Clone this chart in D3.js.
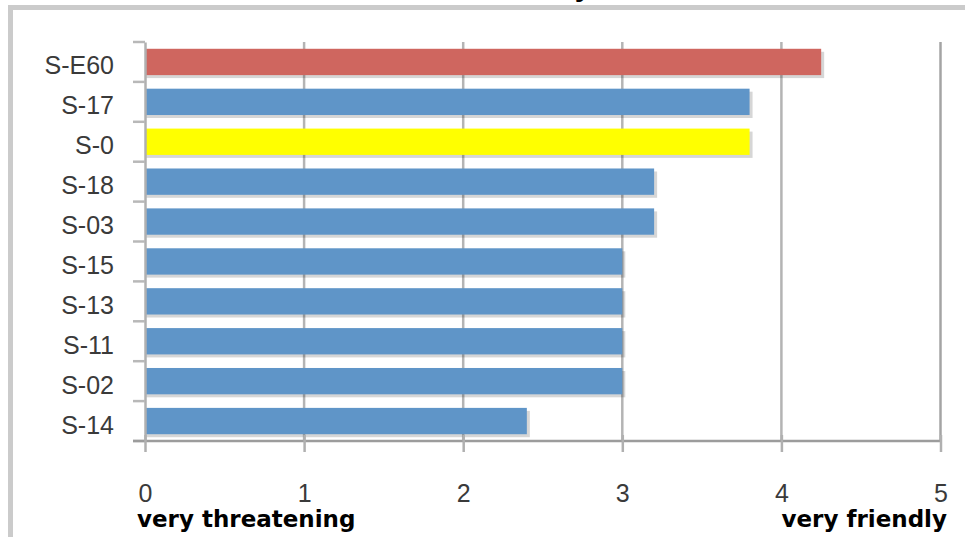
<!DOCTYPE html>
<html>
<head>
<meta charset="utf-8">
<script src="https://cdn.jsdelivr.net/npm/d3@7"></script>
<style>
  html, body { margin: 0; padding: 0; background: #fff; }
  svg { display: block; }
</style>
</head>
<body>
<svg id="chart" width="965" height="537"></svg>
<script>
// Rating per scenario, top to bottom
const categories = ["S-E60", "S-17", "S-0", "S-18", "S-03", "S-15", "S-13", "S-11", "S-02", "S-14"];
const values = [4.25, 3.8, 3.8, 3.2, 3.2, 3.0, 3.0, 3.0, 3.0, 2.4];
const barColors = ["#cf665f", "#5f95c8", "#ffff00", "#5f95c8", "#5f95c8", "#5f95c8", "#5f95c8", "#5f95c8", "#5f95c8", "#5f95c8"];
const xTicks = [0, 1, 2, 3, 4, 5];
const scaleEnds = ["very threatening", "very friendly"];
const titleText = "y";

const svg = d3.select("#chart");
const W = 965, H = 537;
const plotLeft = 145, plotRight = 940.5, plotTop = 42, plotBottom = 441;
const labelFont = "Liberation Sans, Arial, sans-serif";

// Outer chart frame
svg.append("rect")
  .attr("x", 10.5).attr("y", 7.5)
  .attr("width", W + 20).attr("height", H + 20)
  .attr("fill", "none").attr("stroke", "#cbcbcb").attr("stroke-width", 5);

// Title (clipped by the top of the view)
svg.append("text")
  .attr("x", 583).attr("y", -4)
  .attr("text-anchor", "middle")
  .attr("font-family", labelFont)
  .attr("font-weight", "bold").attr("font-size", 30)
  .attr("fill", "#000")
  .text(titleText);

const x = d3.scaleLinear().domain([0, 5]).range([plotLeft, plotRight]);
const y = d3.scaleBand().domain(categories).range([plotTop, plotBottom]).paddingInner(0.34).paddingOuter(0.17);

// Vertical gridlines
svg.append("g").selectAll("line")
  .data(xTicks.slice(1))
  .join("line")
  .attr("x1", d => x(d)).attr("x2", d => x(d))
  .attr("y1", plotTop).attr("y2", plotBottom)
  .attr("stroke", d => d === 5 ? "#a4a4a4" : "#b4b4b4")
  .attr("stroke-width", 2.5);

// Bar shadows
const data = categories.map((c, i) => ({ c, v: values[i], col: barColors[i] }));
svg.append("g").selectAll("rect")
  .data(data)
  .join("rect")
  .attr("x", x(0) + 1)
  .attr("y", d => y(d.c) + 3)
  .attr("width", d => x(d.v) - x(0) + 2)
  .attr("height", y.bandwidth())
  .attr("fill", "#000").attr("opacity", 0.16);

// Bars
svg.append("g").selectAll("rect")
  .data(data)
  .join("rect")
  .attr("x", x(0))
  .attr("y", d => y(d.c))
  .attr("width", d => x(d.v) - x(0))
  .attr("height", y.bandwidth())
  .attr("fill", d => d.col);

// Category axis
const yAxis = svg.append("g")
  .attr("transform", `translate(${plotLeft},0)`)
  .call(d3.axisLeft(y).tickSize(0).tickPadding(31));
yAxis.select(".domain").attr("stroke", "#b0b0b0").attr("stroke-width", 2.5);
yAxis.selectAll("text")
  .attr("font-family", labelFont)
  .attr("font-size", 25).attr("fill", "#3a3a3a")
  .attr("dy", "0.5em");
// Category separators
const seps = d3.range(categories.length + 1).map(i => plotTop + i * y.step());
svg.append("g").selectAll("line")
  .data(seps)
  .join("line")
  .attr("x1", plotLeft - 12).attr("x2", plotLeft)
  .attr("y1", d => d).attr("y2", d => d)
  .attr("stroke", "#b8b8b8").attr("stroke-width", 2.5);

// Value axis
const xAxis = svg.append("g")
  .attr("transform", `translate(0,${plotBottom})`)
  .call(d3.axisBottom(x).tickValues(xTicks).tickFormat(d3.format("d")).tickSize(11).tickSizeOuter(0).tickPadding(41));
xAxis.select(".domain").attr("stroke", "#9c9c9c").attr("stroke-width", 2.5)
  .attr("d", `M${plotLeft - 12},0H${plotRight}`);
xAxis.selectAll(".tick line").attr("stroke", "#b0b0b0").attr("stroke-width", 2.5).attr("y1", -6);
xAxis.selectAll("text")
  .attr("font-family", labelFont)
  .attr("font-size", 25).attr("fill", "#3a3a3a")
  .attr("y", 61).attr("dy", 0);

// Scale end descriptions
svg.append("text")
  .attr("x", 137).attr("y", 527)
  .attr("font-family", "DejaVu Sans, Verdana, sans-serif")
  .attr("font-weight", "bold").attr("font-size", 23)
  .attr("fill", "#000")
  .text(scaleEnds[0]);
svg.append("text")
  .attr("x", 947).attr("y", 527)
  .attr("text-anchor", "end")
  .attr("font-family", "DejaVu Sans, Verdana, sans-serif")
  .attr("font-weight", "bold").attr("font-size", 23)
  .attr("fill", "#000")
  .text(scaleEnds[1]);
</script>
</body>
</html>
